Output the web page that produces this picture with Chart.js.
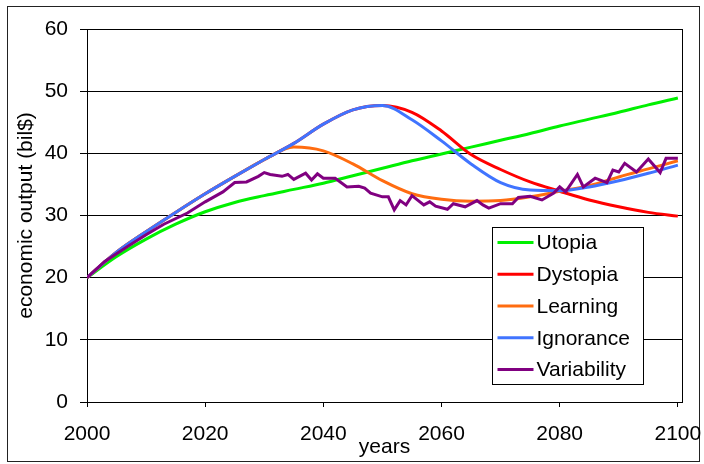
<!DOCTYPE html>
<html>
<head>
<meta charset="utf-8">
<script src="https://cdn.jsdelivr.net/npm/chart.js@4/dist/chart.umd.min.js"></script>
<style>
  html, body { margin: 0; padding: 0; background: #ffffff; }
  #wrap { width: 704px; height: 464px; }
</style>
</head>
<body>
<div id="wrap"><canvas id="chart" width="704" height="464"></canvas></div>
<script>
// Scenario runs, one value every five years
const years = [2000, 2005, 2010, 2015, 2020, 2025, 2030, 2035, 2040, 2045, 2050,
               2055, 2060, 2065, 2070, 2075, 2080, 2085, 2090, 2095, 2100];
const utopia    = [20.0, 23.4, 26.2, 28.6, 30.6, 32.1, 33.2, 34.2, 35.2, 36.4, 37.6,
                   38.8, 39.9, 41.0, 42.1, 43.2, 44.4, 45.5, 46.6, 47.8, 48.9];
const dystopia  = [20.0, 24.1, 27.4, 30.5, 33.5, 36.3, 39.0, 41.6, 44.7, 47.0, 47.7,
                   46.6, 43.6, 39.8, 37.4, 35.4, 33.9, 32.5, 31.4, 30.5, 29.9];
const learning  = [20.0, 24.1, 27.4, 30.5, 33.5, 36.3, 39.0, 41.0, 40.4, 38.3, 35.6,
                   33.5, 32.6, 32.3, 32.4, 33.0, 33.9, 34.8, 36.2, 37.5, 38.8];
const ignorance = [20.0, 24.1, 27.4, 30.5, 33.5, 36.3, 39.0, 41.6, 44.7, 47.0, 47.7,
                   45.4, 42.0, 38.3, 35.3, 34.1, 34.0, 34.6, 35.6, 36.8, 38.1];

// Noisy run, sampled where it changes direction
const variabilityYears = [2000, 2003, 2007, 2010, 2013, 2017, 2020, 2023, 2025, 2027,
                          2029, 2030, 2031, 2033, 2034, 2035, 2037, 2038, 2039, 2040,
                          2042, 2044, 2046, 2047, 2048, 2050, 2051, 2052, 2053, 2054,
                          2055, 2057, 2058, 2059, 2061, 2062, 2064, 2066, 2067, 2068,
                          2070, 2072, 2073, 2075, 2077, 2079, 2080, 2081, 2083, 2084,
                          2086, 2088, 2089, 2090, 2091, 2093, 2095, 2097, 2098, 2100];
const variability = [20.0, 22.6, 25.1, 26.9, 28.6, 30.4, 32.2, 33.8, 35.3, 35.4,
                     36.3, 36.9, 36.6, 36.3, 36.6, 35.8, 36.8, 35.7, 36.7, 36.0,
                     36.0, 34.6, 34.7, 34.4, 33.6, 33.0, 33.0, 30.9, 32.4, 31.7,
                     33.2, 31.7, 32.2, 31.5, 31.0, 31.9, 31.4, 32.4, 31.7, 31.2,
                     31.9, 31.9, 32.9, 33.1, 32.5, 33.6, 34.6, 33.8, 36.6, 34.6,
                     36.0, 35.3, 37.3, 37.0, 38.4, 37.0, 39.1, 36.9, 39.2, 39.2];

const xTicks = [2000, 2020, 2040, 2060, 2080, 2100];
const yTicks = [0, 10, 20, 30, 40, 50, 60];

const FONT_FAMILY = "'Liberation Sans', Arial, sans-serif";

function points(xs, ys) {
  return xs.map((x, i) => ({ x: x, y: ys[i] }));
}

function smoothSeries(label, values, color, order) {
  return {
    label: label,
    data: points(years, values),
    borderColor: color,
    backgroundColor: color,
    borderWidth: 3,
    pointRadius: 0,
    tension: 0.4,
    cubicInterpolationMode: 'monotone',
    fill: false,
    order: order
  };
}

// White page, outer frame, and the right edge of the plot box
const framePlugin = {
  id: 'frame',
  beforeDraw(chart) {
    const ctx = chart.ctx;
    ctx.save();
    ctx.fillStyle = '#ffffff';
    ctx.fillRect(0, 0, chart.width, chart.height);
    ctx.strokeStyle = '#222222';
    ctx.lineWidth = 1;
    ctx.strokeRect(7.5, 6.5, 692, 455);
    ctx.restore();
  },
  afterDraw(chart) {
    const a = chart.chartArea;
    const ctx = chart.ctx;
    ctx.save();
    ctx.strokeStyle = '#000000';
    ctx.lineWidth = 1;
    const xr = Math.round(a.right) + 0.5;
    ctx.beginPath();
    ctx.moveTo(xr, Math.round(a.top));
    ctx.lineTo(xr, Math.round(a.bottom) + 1);
    ctx.stroke();
    ctx.restore();
  }
};

// Boxed legend sitting inside the plot, lower right
const boxLegendPlugin = {
  id: 'boxLegend',
  afterDatasetsDraw(chart) {
    const ctx = chart.ctx;
    const a = chart.chartArea;
    const w = 151, h = 157;
    const left = Math.round(a.right) - 190 + 0.5;
    const top = Math.round(a.bottom) - 175 + 0.5;
    ctx.save();
    ctx.fillStyle = '#ffffff';
    ctx.fillRect(left, top, w, h);
    ctx.strokeStyle = '#000000';
    ctx.lineWidth = 1;
    ctx.strokeRect(left, top, w, h);
    ctx.font = '21px ' + FONT_FAMILY;
    ctx.textBaseline = 'middle';
    ctx.textAlign = 'left';
    chart.data.datasets.forEach((ds, i) => {
      const cy = top + 15 + i * 31.75;
      ctx.strokeStyle = ds.borderColor;
      ctx.lineWidth = 3;
      ctx.beginPath();
      ctx.moveTo(left + 5, cy);
      ctx.lineTo(left + 41, cy);
      ctx.stroke();
      ctx.fillStyle = '#000000';
      ctx.fillText(ds.label, left + 44, cy + 1);
    });
    ctx.restore();
  }
};

new Chart(document.getElementById('chart'), {
  type: 'line',
  data: {
    datasets: [
      smoothSeries('Utopia', utopia, '#00F000', 5),
      smoothSeries('Dystopia', dystopia, '#FF0000', 4),
      smoothSeries('Learning', learning, '#FF6C10', 3),
      smoothSeries('Ignorance', ignorance, '#4074FF', 2),
      {
        label: 'Variability',
        data: points(variabilityYears, variability),
        borderColor: '#800080',
        backgroundColor: '#800080',
        borderWidth: 3,
        pointRadius: 0,
        tension: 0,
        fill: false,
        order: 1
      }
    ]
  },
  options: {
    responsive: false,
    animation: false,
    devicePixelRatio: 1,
    layout: { padding: { left: 0, right: 22, top: 29, bottom: 0 } },
    plugins: {
      legend: { display: false },
      tooltip: { enabled: false }
    },
    scales: {
      x: {
        type: 'linear',
        min: 2000,
        max: 2100.7,
        afterBuildTicks(scale) { scale.ticks = xTicks.map(v => ({ value: v })); },
        afterFit(scale) {
          scale.height = 62;
          scale.paddingRight = 0;
          scale.paddingLeft = 0;
        },
        grid: { drawOnChartArea: false, drawTicks: true, tickLength: 5, tickColor: '#000000', color: '#000000' },
        border: { display: true, color: '#000000', width: 1 },
        ticks: {
          padding: 15,
          color: '#000000',
          autoSkip: false,
          maxRotation: 0,
          font: { family: FONT_FAMILY, size: 21 },
          callback: (v) => String(v)
        },
        title: {
          display: true,
          text: 'years',
          color: '#000000',
          font: { family: FONT_FAMILY, size: 21 },
          padding: { top: 2, bottom: 4 }
        }
      },
      y: {
        min: 0,
        max: 60,
        afterBuildTicks(scale) { scale.ticks = yTicks.map(v => ({ value: v })); },
        afterFit(scale) {
          scale.width = 87;
          scale.paddingTop = 0;
          scale.paddingBottom = 0;
        },
        grid: { color: '#000000', tickColor: '#000000', tickLength: 7, lineWidth: 1 },
        border: { display: true, color: '#000000', width: 1 },
        ticks: {
          padding: 12,
          color: '#000000',
          font: { family: FONT_FAMILY, size: 21 },
          callback: (v) => String(v)
        },
        title: {
          display: true,
          text: 'economic output (bil$)',
          color: '#000000',
          font: { family: FONT_FAMILY, size: 21 },
          padding: { top: 14, bottom: 0 }
        }
      }
    }
  },
  plugins: [framePlugin, boxLegendPlugin]
});
</script>
</body>
</html>
